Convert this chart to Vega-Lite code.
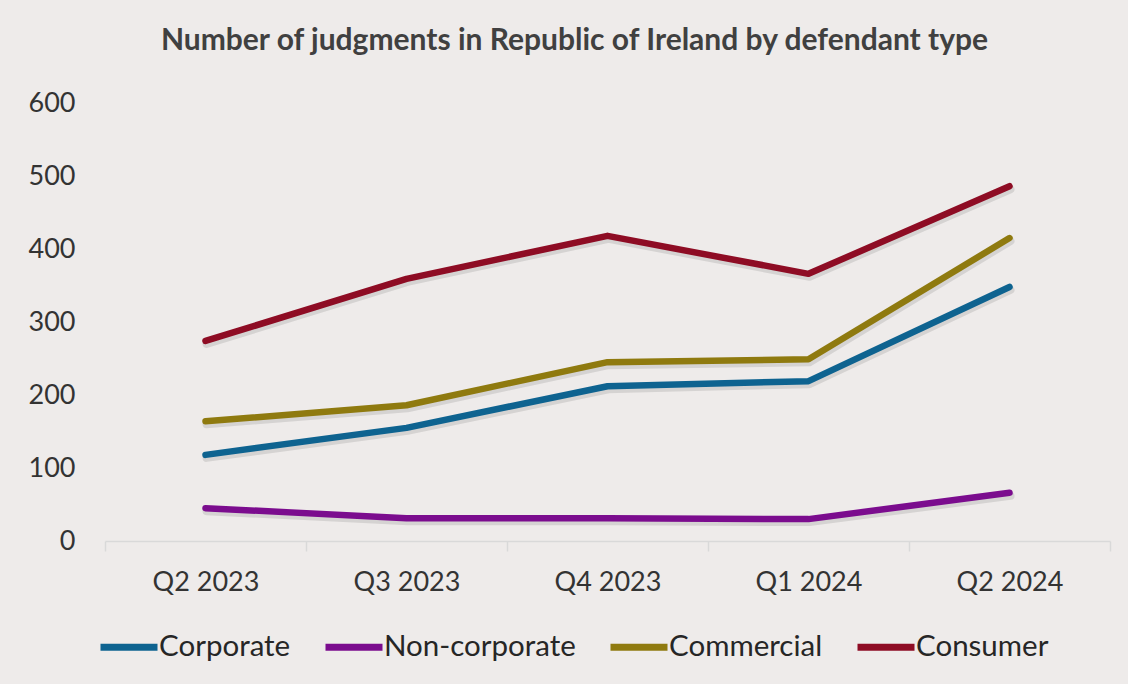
{
  "$schema": "https://vega.github.io/schema/vega-lite/v6.json",
  "autosize": {"type": "none"},
  "width": 1005,
  "height": 438,
  "padding": {"left": 105, "top": 103, "right": 18, "bottom": 143},
  "background": "#EEEBEA",
  "config": {"view": {"stroke": null}, "font": "Lato"},
  "title": {
    "text": "Number of judgments in Republic of Ireland by defendant type",
    "font": "Lato",
    "fontSize": 30,
    "fontWeight": "bold",
    "color": "#404040",
    "anchor": "middle",
    "frame": "group",
    "baseline": "alphabetic",
    "offset": 9,
    "dx": -33
  },
  "data": {
    "values": [
      {"quarter": "Q2 2023", "type": "Corporate", "value": 118},
      {"quarter": "Q3 2023", "type": "Corporate", "value": 155},
      {"quarter": "Q4 2023", "type": "Corporate", "value": 212},
      {"quarter": "Q1 2024", "type": "Corporate", "value": 219},
      {"quarter": "Q2 2024", "type": "Corporate", "value": 348},
      {"quarter": "Q2 2023", "type": "Non-corporate", "value": 45},
      {"quarter": "Q3 2023", "type": "Non-corporate", "value": 31},
      {"quarter": "Q4 2023", "type": "Non-corporate", "value": 31},
      {"quarter": "Q1 2024", "type": "Non-corporate", "value": 30},
      {"quarter": "Q2 2024", "type": "Non-corporate", "value": 66},
      {"quarter": "Q2 2023", "type": "Commercial", "value": 164},
      {"quarter": "Q3 2023", "type": "Commercial", "value": 186},
      {"quarter": "Q4 2023", "type": "Commercial", "value": 245},
      {"quarter": "Q1 2024", "type": "Commercial", "value": 249},
      {"quarter": "Q2 2024", "type": "Commercial", "value": 415},
      {"quarter": "Q2 2023", "type": "Consumer", "value": 274},
      {"quarter": "Q3 2023", "type": "Consumer", "value": 359},
      {"quarter": "Q4 2023", "type": "Consumer", "value": 418},
      {"quarter": "Q1 2024", "type": "Consumer", "value": 366},
      {"quarter": "Q2 2024", "type": "Consumer", "value": 486}
    ]
  },
  "encoding": {
    "x": {
      "field": "quarter",
      "type": "ordinal",
      "sort": ["Q2 2023", "Q3 2023", "Q4 2023", "Q1 2024", "Q2 2024"],
      "bandPosition": 0.5,
      "scale": {"type": "band", "paddingInner": 0, "paddingOuter": 0},
      "axis": {
        "title": null,
        "labelAngle": 0,
        "labelFont": "Lato",
        "labelFontSize": 27,
        "labelColor": "#333333",
        "labelPadding": 18,
        "domainColor": "#D9D9D9",
        "domainWidth": 1.5,
        "tickColor": "#D9D9D9",
        "tickWidth": 1.5,
        "tickSize": 10,
        "tickBand": "extent",
        "grid": false
      }
    },
    "y": {
      "field": "value",
      "type": "quantitative",
      "scale": {"domain": [0, 600], "nice": false},
      "axis": {
        "title": null,
        "values": [0, 100, 200, 300, 400, 500, 600],
        "labelFont": "Lato",
        "labelFontSize": 27,
        "labelColor": "#333333",
        "labelPadding": 30,
        "domain": false,
        "ticks": false,
        "grid": false
      }
    }
  },
  "layer": [
    {
      "mark": {"type": "line", "strokeWidth": 8, "color": "#000000", "opacity": 0.1, "yOffset": 3, "xOffset": 1, "strokeCap": "round", "strokeJoin": "round"},
      "encoding": {"detail": {"field": "type"}}
    },
    {
      "mark": {"type": "line", "strokeWidth": 6.5, "strokeCap": "round", "strokeJoin": "round"},
      "encoding": {
        "color": {
          "field": "type",
          "type": "nominal",
          "sort": ["Corporate", "Non-corporate", "Commercial", "Consumer"],
          "scale": {
            "domain": ["Corporate", "Non-corporate", "Commercial", "Consumer"],
            "range": ["#0E6390", "#7B0C8E", "#8F7A0F", "#8E0C24"]
          },
          "legend": {
            "title": null,
            "orient": "none",
            "direction": "horizontal",
            "legendX": -8,
            "legendY": 512,
            "symbolType": "stroke",
            "symbolSize": 3249,
            "symbolStrokeWidth": 7,
            "labelFont": "Lato",
            "labelFontSize": 29.5,
            "labelColor": "#262626",
            "labelOffset": -2,
            "columnPadding": 20,
            "labelLimit": 400
          }
        }
      }
    }
  ]
}
